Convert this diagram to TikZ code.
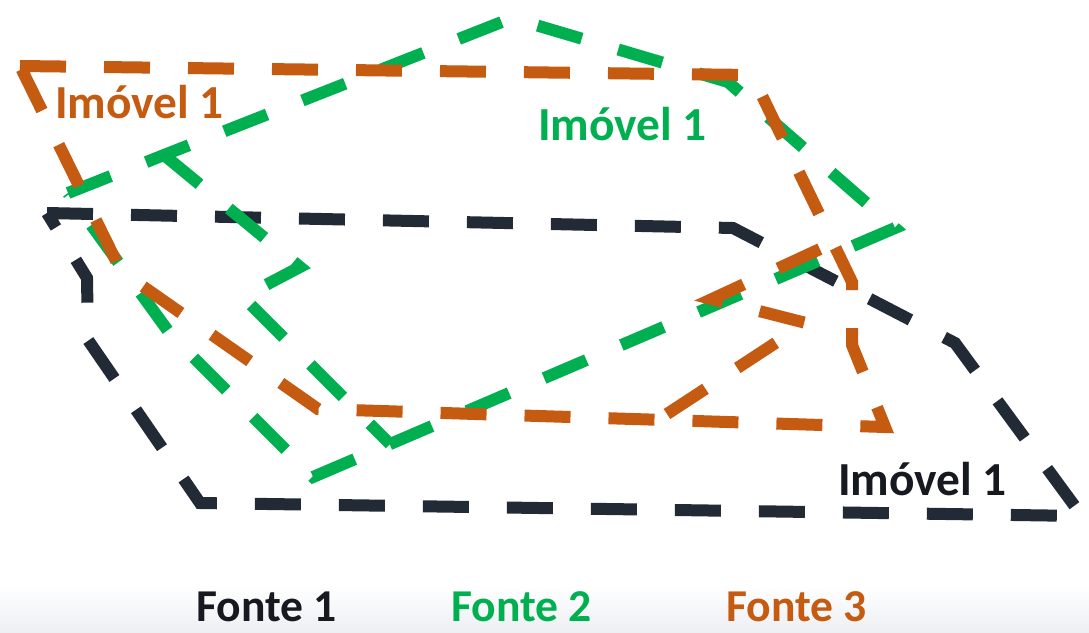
\documentclass[tikz,border=0pt]{standalone}
\usepackage{fontspec}
\setmainfont{Carlito}
\definecolor{cOrange}{HTML}{C55A11}
\definecolor{cGreen}{HTML}{00B050}
\definecolor{cDark}{HTML}{222A35}
\definecolor{cText}{HTML}{16191F}
\definecolor{cFade}{HTML}{EDEFF3}
\begin{document}
\begin{tikzpicture}[x=1pt,y=-1pt,
  outline/.style={line width=12pt, dash pattern=on 46pt off 38pt, line join=miter, miter limit=10},
  lbl/.style={anchor=base west, inner sep=0pt, font=\fontsize{47.4}{52}\selectfont\bfseries},
  src/.style={anchor=base west, inner sep=0pt, font=\fontsize{45.6}{50}\selectfont\bfseries}]
\useasboundingbox (0,0) rectangle (1089,632);
\fill[white] (0,0) rectangle (1089,632);
\shade[top color=white, bottom color=cFade] (0,585) rectangle (1089,632);

% ---- black (Fonte 1) outline
\coordinate (b1) at (47,213);
\coordinate (b2) at (733,228);
\coordinate (b3) at (955,343);
\coordinate (b4) at (1082,516);
\coordinate (b5) at (200,503);
\coordinate (b6) at (88,340);
\coordinate (b7) at (87,278);
\draw[outline, cDark] (b1) -- (b2) -- (b3) -- (b4) -- (b5) -- (b6) -- (b7) -- cycle;

% ---- green (Fonte 2) outline
\coordinate (g1) at (68,193);
\coordinate (gz1) at (164,155);
\coordinate (g2) at (512,18);
\coordinate (g3) at (728,82);
\coordinate (g4) at (895,228);
\coordinate (g5) at (313,477);
\coordinate (g6) at (171,335);
\coordinate (gz2) at (300,267);
\coordinate (gz3) at (243,297);
\coordinate (gz4) at (390,444);
\draw[outline, cGreen] (g1) -- (gz1) -- (g2) -- (g3) -- (g4) -- (g5) -- (g6) -- cycle;
\draw[outline, cGreen] (gz1) -- (gz2) -- (gz3) -- (gz4);

% ---- orange (Fonte 3) outline
\coordinate (o1) at (20,66);
\coordinate (o2) at (752,75);
\coordinate (o3) at (852,282);
\coordinate (o4) at (852,345);
\coordinate (o5) at (885,427);
\coordinate (o6) at (318,409);
\coordinate (o7) at (121,271);
\coordinate (oz1) at (667,414);
\coordinate (oz2) at (806,323);
\coordinate (oz3) at (712,299);
\coordinate (oz4) at (833,243);
\draw[outline, cOrange] (o1) -- (o2) -- (o3) -- (o4) -- (o5) -- (o6) -- (o7) -- cycle;
\draw[outline, cOrange] (oz1) -- (oz2) -- (oz3) -- (oz4);

% ---- labels
\node[lbl, text=cOrange] (lo) at (55,118) {Imóvel 1};
\node[lbl, text=cGreen] (lg) at (538,140) {Imóvel 1};
\node[lbl, text=cText] (lb) at (838,495) {Imóvel 1};
\node[src, text=cText] (f1) at (196,621) {Fonte 1};
\node[src, text=cGreen] (f2) at (451,621) {Fonte 2};
\node[src, text=cOrange] (f3) at (726,621) {Fonte 3};
\end{tikzpicture}
\end{document}
